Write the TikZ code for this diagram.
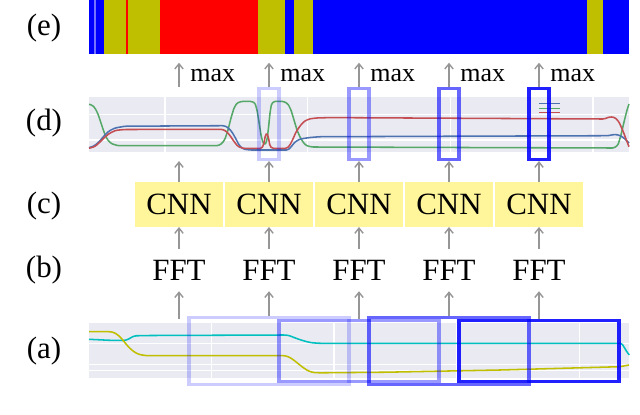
\documentclass[tikz,border=0pt]{standalone}
\usepackage{fontspec}
\setmainfont{Liberation Serif}
\usetikzlibrary{arrows.meta}
\definecolor{snsbg}{RGB}{234,234,242}
\definecolor{cnnyellow}{RGB}{255,246,156}
\definecolor{arrgray}{RGB}{150,150,150}
\definecolor{barolive}{RGB}{191,191,0}
\definecolor{snsblue}{RGB}{76,114,176}
\definecolor{snsgreen}{RGB}{85,168,104}
\definecolor{snsred}{RGB}{196,78,82}
\definecolor{sigcyan}{RGB}{0,191,191}
\definecolor{sigolive}{RGB}{191,191,0}

\begin{document}
\begin{tikzpicture}[x=0.025cm,y=-0.025cm,>={Straight Barb[length=1.3mm,width=2.1mm]},font=\fontsize{22pt}{24pt}\selectfont,
  lab/.style={inner sep=0pt},
  arr/.style={->,draw=arrgray,line width=1pt},
  cnnbox/.style={fill=cnnyellow,minimum width=2.2cm,minimum height=1.12cm,inner sep=0pt},
  fftlab/.style={inner xsep=0pt,inner ysep=0.27cm},
  maxlab/.style={anchor=west,inner sep=0pt,font=\fontsize{18.5pt}{20pt}\selectfont},
  win/.style={draw=blue,line width=2.2pt},
  plotbg/.style={fill=snsbg,minimum width=13.5cm,inner sep=0pt},
  gridline/.style={white,line width=1pt},
  curve/.style={line width=1.1pt,line join=round,rounded corners=1pt}]
\useasboundingbox (0,0) rectangle (640,415);
% row labels
\node[lab] (labe) at (44,28.3) {(e)};
\node[lab] (labd) at (44,123.5) {(d)};
\node[lab] (labc) at (44,206.3) {(c)};
\node[lab] (labb) at (44,270.5) {(b)};
\node[lab] (laba) at (44,351.5) {(a)};
% (e) predicted classes
\node[fill=blue,minimum width=13.5cm,minimum height=1.35cm,inner sep=0pt] (bar) at (359,27) {};
\fill[blue!55!white] (94.3,0) rectangle (96,54);
\fill[barolive] (104.3,0) rectangle (125.7,54);
\fill[red] (125.7,0) rectangle (127.5,54);
\fill[barolive] (127.5,0) rectangle (160.4,54);
\fill[red] (160.4,0) rectangle (257.5,54);
\fill[barolive] (257.5,0) rectangle (284.6,54);
\fill[barolive] (293.6,0) rectangle (312.9,54);
\fill[barolive] (587.1,0) rectangle (603.2,54);
% (d) class probabilities
\node[plotbg,minimum height=1.375cm] (plotd) at (359.2,124.2) {};
\foreach \gx in {165,307.7,450.4,593} \draw[gridline] (\gx,96.7) -- (\gx,151.7);
\foreach \gy in {114.3,140} \draw[gridline] (89,\gy) -- (629.3,\gy);
\draw[curve,snsgreen] (89,104.3) -- (92,105) -- (95,108) -- (98,114) -- (101,123) -- (104,132) -- (107,139) -- (111,143.5) -- (118,145.7) -- (218,145.7) -- (222,143.5) -- (225,139) -- (228,130) -- (231,118) -- (234,108) -- (237,103) -- (242,101.3) -- (252,101.5) -- (255,103) -- (257,110) -- (259,122) -- (261,135) -- (263,143) -- (265,145) -- (267,140) -- (268.5,128) -- (270,113) -- (271.5,104) -- (274,101.3) -- (284,101.5) -- (288,104) -- (291,110) -- (294,120) -- (297,130) -- (300,137) -- (303,142) -- (306,145.5) -- (312,147) -- (614,148) -- (618,145) -- (621,135) -- (624,122) -- (627,110) -- (629,104);
\draw[curve,snsblue] (89,147.7) -- (94,146) -- (99,142) -- (104,136) -- (109,131) -- (115,128) -- (125,126.2) -- (224,125.7) -- (228,127.5) -- (232,132) -- (236,139) -- (239,145) -- (243,149) -- (250,150) -- (288,150) -- (291,147) -- (295,142) -- (300,139) -- (310,137.5) -- (320,136.7) -- (608,135.7) -- (614,134.5) -- (619,135) -- (624,138) -- (629,143);
\draw[curve,snsred] (89,148.3) -- (95,146.5) -- (100,142) -- (105,137) -- (110,133) -- (116,130.3) -- (125,129.5) -- (222,129.3) -- (226,131) -- (230,135.5) -- (234,141.5) -- (238,146.5) -- (243,148.3) -- (262,148.3) -- (264,143) -- (265.5,135) -- (267,133) -- (268.5,138) -- (270,146) -- (272,148.3) -- (287,148.3) -- (290,145) -- (293,139) -- (296,132) -- (300,126) -- (304,121.5) -- (309,119) -- (316,118) -- (330,117.6) -- (604,119) -- (610,116.8) -- (615,117.5) -- (619,122) -- (623,131) -- (626,139) -- (629,146.7);
\draw[snsblue,line width=0.6pt] (539,103.3) -- (560,103.3);
\draw[snsgreen,line width=0.6pt] (539,108.3) -- (560,108.3);
\draw[snsred,line width=0.6pt] (539,112.3) -- (560,112.3);
% (a) input signal
\node[plotbg,minimum height=1.36cm] (plota) at (359.2,350.5) {};
\foreach \gx in {211.6,334.2,456.8,579.4} \draw[gridline] (\gx,323.3) -- (\gx,377.7);
\foreach \gy in {343.3,364.3,370.7} \draw[gridline] (89,\gy) -- (629.3,\gy);
\draw[curve,sigcyan] (89,339.3) -- (110,340.3) -- (124,340.5) -- (128,339.5) -- (131,337.5) -- (135,335.8) -- (150,335.5) -- (285,335) -- (289,335.5) -- (294,337.5) -- (300,339.7) -- (306,341.5) -- (312,342.8) -- (320,343.3) -- (621.7,343.3) -- (624,347) -- (627,352) -- (629.3,355);
\draw[curve,sigolive] (89,331.7) -- (110,331.7) -- (114,332.5) -- (118,335) -- (122,339) -- (126,344) -- (130,348.5) -- (135,352.5) -- (140,354.7) -- (147,355.7) -- (285,355.7) -- (289,357) -- (293,359.5) -- (298,363.5) -- (303,367.5) -- (308,370.7) -- (313,372.5) -- (320,372.8) -- (386.7,372.2) -- (500,370) -- (620,366.7) -- (629,365);
% sliding windows
\foreach \i/\op/\h in {1/0/1.525cm,2/0.2/1.69cm,3/0.4/1.525cm,4/0.6/1.69cm,5/0.87/1.525cm}{
  \pgfmathsetmacro\cx{179+90*(\i-1)}
  \node[win,draw opacity=\op,minimum width=4cm,minimum height=\h] (wina\i) at (\cx,351) {};
  \node[fftlab] (fft\i) at (\cx,270) {FFT};
  \node[cnnbox] (cnn\i) at (\cx,204.3) {CNN};
  \node[win,draw opacity=\op,minimum width=0.5cm,minimum height=1.78cm] (wind\i) at (\cx,123.9) {};
  \coordinate (top\i) at (\cx,62.7);
  \node[maxlab] (max\i) at (\cx+11,75.8) {max};
  \draw[arr] (wina\i) -- (fft\i);
  \draw[arr] (fft\i) -- (cnn\i);
  \draw[arr] (cnn\i) -- (wind\i);
  \draw[arr] (wind\i) -- (top\i);
}
\end{tikzpicture}
\end{document}
